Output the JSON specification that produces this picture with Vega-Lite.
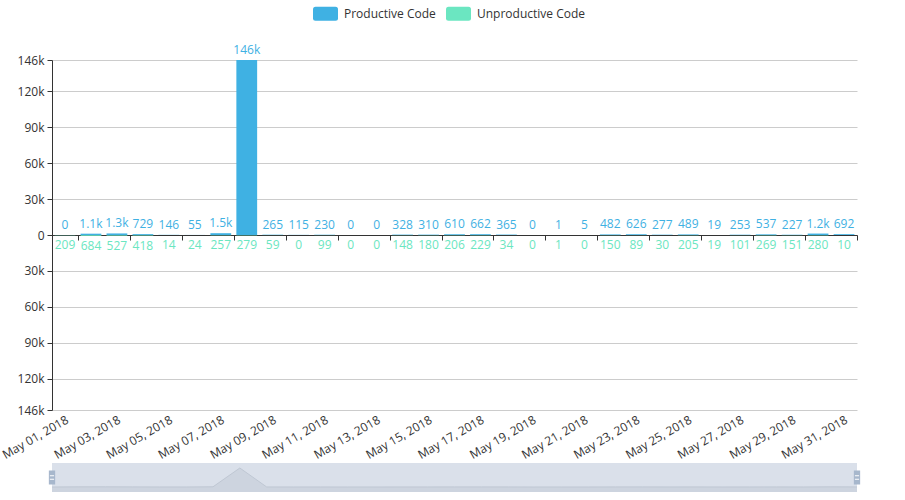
{
  "$schema": "https://vega.github.io/schema/vega-lite/v6.json",
  "autosize": "none",
  "padding": {"left": 52, "top": 60, "right": 48, "bottom": 90},
  "width": 805,
  "height": 350,
  "background": "white",
  "config": {
    "font": "Open Sans",
    "view": {"stroke": null},
    "axis": {"labelFont": "Open Sans", "labelFontSize": 12, "labelColor": "#333", "title": null}
  },
  "data": {
    "values": [
      {"date": "May 01, 2018", "productive": 0, "unproductive": 209},
      {"date": "May 02, 2018", "productive": 1100, "unproductive": 684},
      {"date": "May 03, 2018", "productive": 1300, "unproductive": 527},
      {"date": "May 04, 2018", "productive": 729, "unproductive": 418},
      {"date": "May 05, 2018", "productive": 146, "unproductive": 14},
      {"date": "May 06, 2018", "productive": 55, "unproductive": 24},
      {"date": "May 07, 2018", "productive": 1500, "unproductive": 257},
      {"date": "May 08, 2018", "productive": 146000, "unproductive": 279},
      {"date": "May 09, 2018", "productive": 265, "unproductive": 59},
      {"date": "May 10, 2018", "productive": 115, "unproductive": 0},
      {"date": "May 11, 2018", "productive": 230, "unproductive": 99},
      {"date": "May 12, 2018", "productive": 0, "unproductive": 0},
      {"date": "May 13, 2018", "productive": 0, "unproductive": 0},
      {"date": "May 14, 2018", "productive": 328, "unproductive": 148},
      {"date": "May 15, 2018", "productive": 310, "unproductive": 180},
      {"date": "May 16, 2018", "productive": 610, "unproductive": 206},
      {"date": "May 17, 2018", "productive": 662, "unproductive": 229},
      {"date": "May 18, 2018", "productive": 365, "unproductive": 34},
      {"date": "May 19, 2018", "productive": 0, "unproductive": 0},
      {"date": "May 20, 2018", "productive": 1, "unproductive": 1},
      {"date": "May 21, 2018", "productive": 5, "unproductive": 0},
      {"date": "May 22, 2018", "productive": 482, "unproductive": 150},
      {"date": "May 23, 2018", "productive": 626, "unproductive": 89},
      {"date": "May 24, 2018", "productive": 277, "unproductive": 30},
      {"date": "May 25, 2018", "productive": 489, "unproductive": 205},
      {"date": "May 26, 2018", "productive": 19, "unproductive": 19},
      {"date": "May 27, 2018", "productive": 253, "unproductive": 101},
      {"date": "May 28, 2018", "productive": 537, "unproductive": 269},
      {"date": "May 29, 2018", "productive": 227, "unproductive": 151},
      {"date": "May 30, 2018", "productive": 1200, "unproductive": 280},
      {"date": "May 31, 2018", "productive": 692, "unproductive": 10}
    ]
  },
  "resolve": {"scale": {"x": "independent", "y": "independent"}, "axis": {"x": "independent"}},
  "layer": [
    {
      "mark": {"type": "area", "color": "#dae0ea", "opacity": 1},
      "encoding": {
        "x": {"field": "date", "type": "ordinal", "sort": null, "scale": {"type": "point", "padding": 0}, "axis": null},
        "y": {"datum": 184421, "type": "quantitative", "scale": {"domain": [-38421, 184421], "range": [432, 403], "nice": false, "zero": false}, "axis": null},
        "y2": {"datum": -38421}
      }
    },
    {
      "mark": {"type": "area", "color": "#cdd4df", "opacity": 1, "line": {"color": "#bfc7d3", "strokeWidth": 1}},
      "encoding": {
        "x": {"field": "date", "type": "ordinal", "sort": null, "scale": {"type": "point", "padding": 0}, "axis": null},
        "y": {"field": "productive", "type": "quantitative", "scale": {"domain": [-38421, 184421], "range": [432, 403], "nice": false, "zero": false}, "axis": null},
        "y2": {"datum": -38421}
      }
    },
    {
      "transform": [{"filter": "datum.date == 'May 01, 2018' || datum.date == 'May 31, 2018'"}],
      "mark": {"type": "point", "filled": true, "color": "#a7b7cc", "opacity": 1, "size": 196,
               "shape": "M-0.45,-1 H0.45 V1 H-0.45 Z"},
      "encoding": {
        "x": {"field": "date", "type": "ordinal", "sort": null, "scale": {"type": "point", "padding": 0, "domain": ["May 01, 2018", "May 31, 2018"]}, "axis": null},
        "y": {"datum": 73000, "type": "quantitative", "scale": {"domain": [-38421, 184421], "range": [432, 403], "nice": false, "zero": false}, "axis": null}
      }
    },
    {
      "transform": [{"filter": "datum.date == 'May 01, 2018' || datum.date == 'May 31, 2018'"}],
      "mark": {"type": "point", "filled": false, "color": "#ffffff", "opacity": 1, "size": 196, "strokeWidth": 1,
               "shape": "M-0.3,-0.25 H0.3 M-0.3,0.25 H0.3"},
      "encoding": {
        "x": {"field": "date", "type": "ordinal", "sort": null, "scale": {"type": "point", "padding": 0, "domain": ["May 01, 2018", "May 31, 2018"]}, "axis": null},
        "y": {"datum": 73000, "type": "quantitative", "scale": {"domain": [-38421, 184421], "range": [432, 403], "nice": false, "zero": false}, "axis": null}
      }
    },
    {
      "mark": {"type": "bar", "width": {"band": 0.8}},
      "encoding": {
        "x": {
          "field": "date", "type": "ordinal", "sort": null,
          "scale": {"paddingInner": 0, "paddingOuter": 0},
          "axis": {
            "orient": "bottom",
            "values": ["May 01, 2018", "May 03, 2018", "May 05, 2018", "May 07, 2018", "May 09, 2018", "May 11, 2018", "May 13, 2018", "May 15, 2018", "May 17, 2018", "May 19, 2018", "May 21, 2018", "May 23, 2018", "May 25, 2018", "May 27, 2018", "May 29, 2018", "May 31, 2018"],
            "domain": false, "ticks": false, "grid": false,
            "labelAngle": -30, "labelPadding": 4
          }
        },
        "y": {
          "field": "productive", "type": "quantitative",
          "scale": {"domain": [-146000, 146000], "nice": false},
          "axis": {
            "values": [-146000, -120000, -90000, -60000, -30000, 0, 30000, 60000, 90000, 120000, 146000],
            "labelExpr": "datum.value == 0 ? '0' : (abs(datum.value) / 1000) + 'k'",
            "grid": true, "gridColor": "#ccc",
            "domainColor": "#333", "tickColor": "#333", "tickSize": 5, "labelPadding": 3
          }
        },
        "color": {
          "datum": "Productive Code", "type": "nominal",
          "scale": {"domain": ["Productive Code", "Unproductive Code"], "range": ["#3fb1e3", "#6be6c1"]},
          "legend": {
            "orient": "none", "legendX": 261, "legendY": -59, "direction": "horizontal",
            "title": null,
            "symbolType": "M-0.8,-0.56 H0.8 Q1,-0.56 1,-0.36 V0.36 Q1,0.56 0.8,0.56 H-0.8 Q-1,0.56 -1,0.36 V-0.36 Q-1,-0.56 -0.8,-0.56 Z",
            "symbolSize": 625, "symbolStrokeWidth": 0,
            "labelFontSize": 12, "labelColor": "#333", "labelFont": "Open Sans",
            "columnPadding": 10, "labelOffset": 6
          }
        }
      }
    },
    {
      "mark": {"type": "text", "baseline": "bottom", "dy": -3, "color": "#3fb1e3", "fontSize": 12},
      "encoding": {
        "x": {"field": "date", "type": "ordinal", "sort": null, "scale": {"paddingInner": 0, "paddingOuter": 0}, "axis": null},
        "y": {"field": "productive", "type": "quantitative", "scale": {"domain": [-146000, 146000], "nice": false}, "axis": null},
        "text": {"field": "productive", "type": "quantitative", "format": ".3~s"}
      }
    },
    {
      "mark": {"type": "bar", "width": {"band": 0.8}},
      "encoding": {
        "x": {
          "field": "date", "type": "ordinal", "sort": null,
          "scale": {"paddingInner": 0, "paddingOuter": 0},
          "axis": {
            "orient": "bottom", "offset": -175,
            "values": ["May 01, 2018", "May 03, 2018", "May 05, 2018", "May 07, 2018", "May 09, 2018", "May 11, 2018", "May 13, 2018", "May 15, 2018", "May 17, 2018", "May 19, 2018", "May 21, 2018", "May 23, 2018", "May 25, 2018", "May 27, 2018", "May 29, 2018", "May 31, 2018"],
            "labels": false, "tickBand": "extent", "grid": false,
            "domainColor": "#333", "tickColor": "#333", "tickSize": 5
          }
        },
        "y": {"field": "unproductive", "type": "quantitative", "scale": {"domain": [-146000, 146000], "nice": false, "reverse": true}, "axis": null},
        "color": {"datum": "Unproductive Code", "type": "nominal"}
      }
    },
    {
      "mark": {"type": "text", "baseline": "top", "dy": 5, "color": "#6be6c1", "fontSize": 12},
      "encoding": {
        "x": {"field": "date", "type": "ordinal", "sort": null, "scale": {"paddingInner": 0, "paddingOuter": 0}, "axis": null},
        "y": {"field": "unproductive", "type": "quantitative", "scale": {"domain": [-146000, 146000], "nice": false, "reverse": true}, "axis": null},
        "text": {"field": "unproductive", "type": "quantitative", "format": ".3~s"}
      }
    }
  ]
}
